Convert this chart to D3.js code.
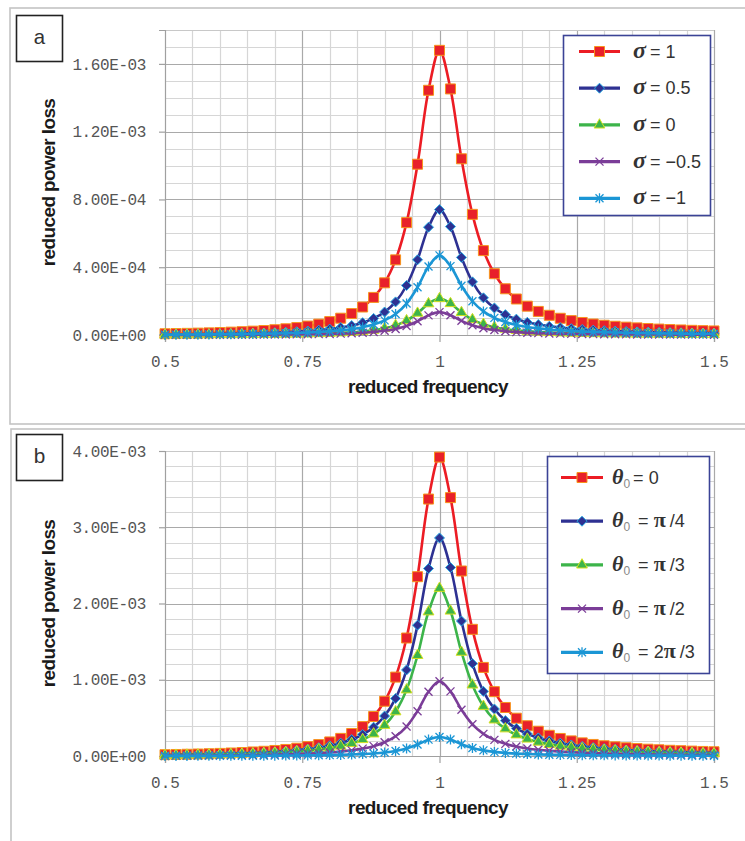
<!DOCTYPE html>
<html><head><meta charset="utf-8">
<script src="https://cdn.jsdelivr.net/npm/d3@7"></script>
<style>body{margin:0;background:#fff}svg{display:block}</style>
</head><body><svg id="c" width="745" height="841"></svg>
<script>
// ---------- DATA (power loss values in units of 1E-03) ----------
const freq = [0.5,0.52,0.54,0.56,0.58,0.6,0.62,0.64,0.66,0.68,0.7,0.72,0.74,0.76,0.78,0.8,0.82,0.84,0.86,0.88,0.9,0.92,0.94,0.96,0.98,1,1.02,1.04,1.06,1.08,1.1,1.12,1.14,1.16,1.18,1.2,1.22,1.24,1.26,1.28,1.3,1.32,1.34,1.36,1.38,1.4,1.42,1.44,1.46,1.48,1.5];

const sigmaLabels = ["1","0.5","0","\u22120.5","\u22121"];
const sigmaP1   = [0.0074,0.0085,0.0097,0.0111,0.0127,0.0146,0.0169,0.0195,0.0227,0.0265,0.0311,0.0367,0.0438,0.0527,0.0641,0.0791,0.0991,0.1265,0.1652,0.2219,0.3079,0.4435,0.6631,1.0078,1.4442,1.68,1.4522,1.0399,0.7120,0.4980,0.3617,0.2728,0.2125,0.1701,0.1393,0.1163,0.0987,0.0849,0.0739,0.0649,0.0576,0.0515,0.0463,0.0420,0.0382,0.0350,0.0322,0.0297,0.0275,0.0256,0.0239];
const sigmaP05  = [0.0033,0.0037,0.0043,0.0049,0.0056,0.0064,0.0074,0.0086,0.0100,0.0117,0.0137,0.0162,0.0193,0.0232,0.0282,0.0348,0.0436,0.0557,0.0728,0.0977,0.1356,0.1954,0.2921,0.4439,0.6361,0.74,0.6396,0.4580,0.3136,0.2193,0.1593,0.1201,0.0936,0.0749,0.0614,0.0512,0.0435,0.0374,0.0325,0.0286,0.0254,0.0227,0.0204,0.0185,0.0168,0.0154,0.0142,0.0131,0.0121,0.0113,0.0105];
const sigma0    = [0.0010,0.0011,0.0012,0.0014,0.0016,0.0019,0.0022,0.0025,0.0029,0.0034,0.0040,0.0047,0.0056,0.0067,0.0082,0.0101,0.0127,0.0162,0.0211,0.0284,0.0394,0.0568,0.0849,0.1290,0.1848,0.215,0.1858,0.1331,0.0911,0.0637,0.0463,0.0349,0.0272,0.0218,0.0178,0.0149,0.0126,0.0109,0.0095,0.0083,0.0074,0.0066,0.0059,0.0054,0.0049,0.0045,0.0041,0.0038,0.0035,0.0033,0.0031];
const sigmaM05  = [0.0006,0.0007,0.0008,0.0009,0.0010,0.0012,0.0014,0.0016,0.0018,0.0021,0.0025,0.0030,0.0035,0.0042,0.0052,0.0064,0.0080,0.0102,0.0133,0.0178,0.0247,0.0356,0.0533,0.0810,0.1160,0.135,0.1167,0.0836,0.0572,0.0400,0.0291,0.0219,0.0171,0.0137,0.0112,0.0093,0.0079,0.0068,0.0059,0.0052,0.0046,0.0041,0.0037,0.0034,0.0031,0.0028,0.0026,0.0024,0.0022,0.0021,0.0019];
const sigmaM1   = [0.0021,0.0024,0.0027,0.0031,0.0036,0.0041,0.0047,0.0055,0.0063,0.0074,0.0087,0.0103,0.0122,0.0147,0.0179,0.0221,0.0277,0.0354,0.0462,0.0621,0.0861,0.1241,0.1855,0.2819,0.4040,0.47,0.4063,0.2909,0.1992,0.1393,0.1012,0.0763,0.0594,0.0476,0.0390,0.0325,0.0276,0.0237,0.0207,0.0182,0.0161,0.0144,0.0130,0.0117,0.0107,0.0098,0.0090,0.0083,0.0077,0.0072,0.0067];

const thetaLabels = ["0","\u03c0/4","\u03c0/3","\u03c0/2","2\u03c0/3"];
const theta0    = [0.0174,0.0198,0.0227,0.0259,0.0297,0.0341,0.0394,0.0455,0.0529,0.0617,0.0725,0.0857,0.1022,0.1229,0.1496,0.1845,0.2311,0.2951,0.3855,0.5177,0.7184,1.0348,1.5473,2.3515,3.3697,3.92,3.3884,2.4263,1.6613,1.1619,0.8440,0.6364,0.4958,0.3969,0.3251,0.2714,0.2302,0.1980,0.1723,0.1515,0.1344,0.1201,0.1081,0.0979,0.0892,0.0816,0.0750,0.0693,0.0642,0.0597,0.0557];
const thetaPi4  = [0.0127,0.0144,0.0165,0.0189,0.0217,0.0249,0.0287,0.0332,0.0386,0.0450,0.0529,0.0625,0.0745,0.0897,0.1091,0.1346,0.1686,0.2153,0.2813,0.3777,0.5241,0.7550,1.1289,1.7157,2.4585,2.86,2.4721,1.7702,1.2121,0.8477,0.6158,0.4643,0.3617,0.2896,0.2372,0.1980,0.1680,0.1445,0.1257,0.1105,0.0980,0.0876,0.0789,0.0714,0.0651,0.0595,0.0547,0.0505,0.0468,0.0435,0.0406];
const thetaPi3  = [0.0097,0.0111,0.0127,0.0145,0.0167,0.0192,0.0221,0.0255,0.0297,0.0347,0.0407,0.0481,0.0573,0.0690,0.0840,0.1035,0.1297,0.1656,0.2164,0.2905,0.4032,0.5808,0.8684,1.3197,1.8912,2.20,1.9016,1.3617,0.9324,0.6521,0.4737,0.3572,0.2782,0.2228,0.1824,0.1523,0.1292,0.1111,0.0967,0.0850,0.0754,0.0674,0.0607,0.0550,0.0500,0.0458,0.0421,0.0389,0.0360,0.0335,0.0312];
const thetaPi2  = [0.0043,0.0049,0.0057,0.0065,0.0074,0.0085,0.0098,0.0114,0.0132,0.0154,0.0181,0.0214,0.0255,0.0307,0.0374,0.0461,0.0578,0.0738,0.0964,0.1294,0.1796,0.2587,0.3868,0.5879,0.8424,0.98,0.8471,0.6066,0.4153,0.2905,0.2110,0.1591,0.1239,0.0992,0.0813,0.0678,0.0576,0.0495,0.0431,0.0379,0.0336,0.0300,0.0270,0.0245,0.0223,0.0204,0.0188,0.0173,0.0160,0.0149,0.0139];
const theta2Pi3 = [0.0011,0.0013,0.0014,0.0017,0.0019,0.0022,0.0025,0.0029,0.0034,0.0039,0.0046,0.0055,0.0065,0.0078,0.0095,0.0118,0.0147,0.0188,0.0246,0.0330,0.0458,0.0660,0.0987,0.1500,0.2149,0.25,0.2161,0.1547,0.1060,0.0741,0.0538,0.0406,0.0316,0.0253,0.0207,0.0173,0.0147,0.0126,0.0110,0.0097,0.0086,0.0077,0.0069,0.0062,0.0057,0.0052,0.0048,0.0044,0.0041,0.0038,0.0036];

const xTickValues = [0.5,0.75,1,1.25,1.5];
const xTickLabels = ["0.5","0.75","1","1.25","1.5"];
const yTickValuesA = [0,0.4,0.8,1.2,1.6];
const yTickLabelsA = ["0.00E+00","4.00E-04","8.00E-04","1.20E-03","1.60E-03"];
const yTickValuesB = [0,1,2,3,4];
const yTickLabelsB = ["0.00E+00","1.00E-03","2.00E-03","3.00E-03","4.00E-03"];

// ---------- STYLES ----------
const styles = [
  {line:"#ec1c24", marker:"square",   fill:"#e8202a", stroke:"#f7941d"},
  {line:"#2e3192", marker:"diamond",  fill:"#2e3192", stroke:"#29abe2"},
  {line:"#3cb44a", marker:"triangle", fill:"#3cb44a", stroke:"#d6e021"},
  {line:"#7b3d98", marker:"cross",    fill:"none",    stroke:"#7b3d98"},
  {line:"#1b96d5", marker:"star",     fill:"none",    stroke:"#1b96d5"}
];
const symDiamond = {draw(ctx,size){const r=Math.sqrt(size)/2;ctx.moveTo(0,-r);ctx.lineTo(r,0);ctx.lineTo(0,r);ctx.lineTo(-r,0);ctx.closePath();}};
const symCross = {draw(ctx,size){const r=Math.sqrt(size)/2;ctx.moveTo(-r,-r);ctx.lineTo(r,r);ctx.moveTo(r,-r);ctx.lineTo(-r,r);}};
const symStar = {draw(ctx,size){const r=Math.sqrt(size)/2;ctx.moveTo(-r,-r);ctx.lineTo(r,r);ctx.moveTo(r,-r);ctx.lineTo(-r,r);ctx.moveTo(0,-r*1.25);ctx.lineTo(0,r*1.25);}};
const symbolFor = {
  square: d3.symbol().type(d3.symbolSquare).size(100),
  diamond: d3.symbol().type(symDiamond).size(100),
  triangle: d3.symbol().type(d3.symbolTriangle).size(50),
  cross: d3.symbol().type(symCross).size(64),
  star: d3.symbol().type(symStar).size(64)
};

const svg = d3.select("#c");
const SERIF = "'Liberation Serif','DejaVu Serif',serif";
const SANS = "'Liberation Sans',Arial,sans-serif";
const MONO = "'Liberation Mono','DejaVu Sans Mono',monospace";

function drawMarker(sel, st, px, py){
  sel.append("path")
    .attr("d", symbolFor[st.marker]())
    .attr("transform", `translate(${px},${py})`)
    .attr("fill", st.fill)
    .attr("stroke", st.stroke)
    .attr("stroke-width", (st.marker==="cross"||st.marker==="star") ? 1.3 : 1);
}

function panel(cfg){
  const g = svg.append("g");
  // outer frame
  g.append("rect").attr("x",cfg.frame[0]).attr("y",cfg.frame[1]).attr("width",cfg.frame[2]).attr("height",cfg.frame[3])
    .attr("fill","none").attr("stroke","#c4c4c4").attr("stroke-width",1.6);
  // panel tag
  g.append("rect").attr("x",16.5).attr("y",cfg.tagY+0.5).attr("width",46).attr("height",46)
    .attr("fill","#fff").attr("stroke","#222").attr("stroke-width",1.6);
  g.append("text").attr("x",39.5).attr("y",cfg.tagY+29).attr("text-anchor","middle")
    .attr("font-family",MONO).attr("font-size",21).attr("fill","#333").text(cfg.tag);

  const x = d3.scaleLinear().domain([0.5,1.5]).range([165,714]);
  const y = d3.scaleLinear().domain(cfg.yDomain).range(cfg.yRange);
  const [y0,y1] = cfg.yRange;
  const grid = g.append("g");
  const minorX = d3.range(0.55,1.5,0.05).filter(v=>Math.abs(v*4-Math.round(v*4))>1e-6);
  const minorY = d3.range(cfg.yMinor, cfg.yDomain[1]-1e-9, cfg.yMinor).filter(v=>!cfg.yTicks.some(t=>Math.abs(t-v)<1e-9));
  minorX.forEach(v=>grid.append("line").attr("x1",Math.round(x(v))+0.5).attr("x2",Math.round(x(v))+0.5).attr("y1",y1).attr("y2",y0).attr("stroke","#d6d6d6").attr("stroke-width",1.2));
  minorY.forEach(v=>grid.append("line").attr("y1",Math.round(y(v))+0.5).attr("y2",Math.round(y(v))+0.5).attr("x1",165).attr("x2",714).attr("stroke","#d6d6d6").attr("stroke-width",1.2));
  xTickValues.slice(1).forEach(v=>grid.append("line").attr("x1",Math.round(x(v))+0.5).attr("x2",Math.round(x(v))+0.5).attr("y1",y1).attr("y2",y0).attr("stroke","#a9a9a9").attr("stroke-width",1.2));
  cfg.yTicks.slice(1).forEach(v=>grid.append("line").attr("y1",Math.round(y(v))+0.5).attr("y2",Math.round(y(v))+0.5).attr("x1",165).attr("x2",714).attr("stroke","#a9a9a9").attr("stroke-width",1.2));
  grid.append("line").attr("x1",165).attr("x2",714).attr("y1",y1+0.5).attr("y2",y1+0.5).attr("stroke","#c8c8c8").attr("stroke-width",1.2);

  // axes
  const ax = g.append("g").attr("transform",`translate(0,${y0})`)
    .call(d3.axisBottom(x).tickValues(xTickValues).tickFormat((d,i)=>xTickLabels[i]).tickSize(7).tickPadding(14));
  ax.select(".domain").attr("stroke","#a0a0a0").attr("stroke-width",1.2);
  ax.selectAll(".tick line").attr("stroke","#a0a0a0").attr("stroke-width",1.2);
  ax.selectAll(".tick text").attr("font-family",MONO).attr("font-size",16).attr("fill","#555");
  const ay = g.append("g").attr("transform",`translate(165,0)`)
    .call(d3.axisLeft(y).tickValues(cfg.yTicks).tickFormat((d,i)=>cfg.yLabels[i]).tickSize(6).tickPadding(13));
  ay.select(".domain").attr("stroke","#a0a0a0").attr("stroke-width",1.2);
  ay.selectAll(".tick line").attr("stroke","#a0a0a0").attr("stroke-width",1.2);
  ay.selectAll(".tick text").attr("font-family",MONO).attr("font-size",16).attr("fill","#555").attr("letter-spacing",-0.4);

  // titles
  g.append("text").attr("x",428).attr("y",y0+58).attr("text-anchor","middle")
    .attr("font-family",SANS).attr("font-weight","bold").attr("font-size",19).attr("letter-spacing",-0.6).attr("fill","#1a1a1a")
    .text("reduced frequency");
  g.append("text").attr("transform",`translate(55,${(y0+y1)/2}) rotate(-90)`).attr("text-anchor","middle")
    .attr("font-family",SANS).attr("font-weight","bold").attr("font-size",19).attr("letter-spacing",-0.6).attr("fill","#1a1a1a")
    .text("reduced power loss");

  // series
  const lineGen = d3.line().x((d,i)=>x(freq[i])).y(d=>y(d)).curve(d3.curveCatmullRom.alpha(0.5));
  cfg.series.forEach((vals,k)=>{
    const st = styles[k];
    const sg = g.append("g");
    sg.append("path").attr("d",lineGen(vals)).attr("fill","none").attr("stroke",st.line).attr("stroke-width",2.6);
    vals.forEach((v,i)=>drawMarker(sg, st, x(freq[i]), y(v)));
  });

  // legend
  const L = cfg.legend;
  const lg = g.append("g");
  lg.append("rect").attr("x",L.x).attr("y",L.y).attr("width",L.w).attr("height",L.h)
    .attr("fill","#fff").attr("stroke","#3b4396").attr("stroke-width",1.6);
  cfg.labels.forEach((lab,k)=>{
    const st = styles[k];
    const ry = L.y + L.first + k*L.step;
    lg.append("line").attr("x1",L.lx1).attr("x2",L.lx2).attr("y1",ry).attr("y2",ry).attr("stroke",st.line).attr("stroke-width",3.2);
    drawMarker(lg, st, (L.lx1+L.lx2)/2, ry);
    cfg.drawLabel(lg, L.tx, ry+6, lab);
  });
}

function sigmaLabel(lg, tx, ty, lab){
  const t = lg.append("text").attr("x",tx).attr("y",ty).attr("fill","#333");
  t.append("tspan").attr("font-family",SERIF).attr("font-style","italic").attr("font-weight","bold").attr("font-size",24).text("\u03c3");
  t.append("tspan").attr("font-family",SANS).attr("font-size",18).attr("dx",4).text("= " + lab);
}
function thetaLabel(lg, tx, ty, lab){
  const t = lg.append("text").attr("x",tx).attr("y",ty).attr("fill","#333");
  t.append("tspan").attr("font-family",SERIF).attr("font-style","italic").attr("font-weight","bold").attr("font-size",22).text("\u03b8");
  t.append("tspan").attr("font-family",SANS).attr("font-size",12).attr("fill","#888").attr("dy",4).text("0");
  t.append("tspan").attr("font-family",SANS).attr("font-size",18).attr("dy",-4).attr("dx", lab==="0"?3:8).text("= ");
  for(const ch of lab){
    if(ch==="\u03c0") t.append("tspan").attr("font-family",SERIF).attr("font-weight","bold").attr("font-size",22).text(ch);
    else if(ch==="/") t.append("tspan").attr("font-family",SANS).attr("font-size",18).attr("dx",4).text(ch);
    else t.append("tspan").attr("font-family",SANS).attr("font-size",18).text(ch);
  }
}

panel({
  frame:[10,8,760,416], tag:"a", tagY:15,
  yDomain:[0,1.8], yRange:[335,30], yMinor:0.1, yTicks:yTickValuesA, yLabels:yTickLabelsA,
  series:[sigmaP1,sigmaP05,sigma0,sigmaM05,sigmaM1], labels:sigmaLabels,
  legend:{x:563.5,y:35.5,w:147,h:180,first:16,step:36.7,lx1:579,lx2:620,tx:633},
  drawLabel:sigmaLabel
});
panel({
  frame:[11,429,760,440], tag:"b", tagY:434,
  yDomain:[0,4], yRange:[756,451], yMinor:0.2, yTicks:yTickValuesB, yLabels:yTickLabelsB,
  series:[theta0,thetaPi4,thetaPi3,thetaPi2,theta2Pi3], labels:thetaLabels,
  legend:{x:547.5,y:456.5,w:162,h:217,first:21,step:43.7,lx1:561,lx2:603,tx:612},
  drawLabel:thetaLabel
});
</script></body></html>
